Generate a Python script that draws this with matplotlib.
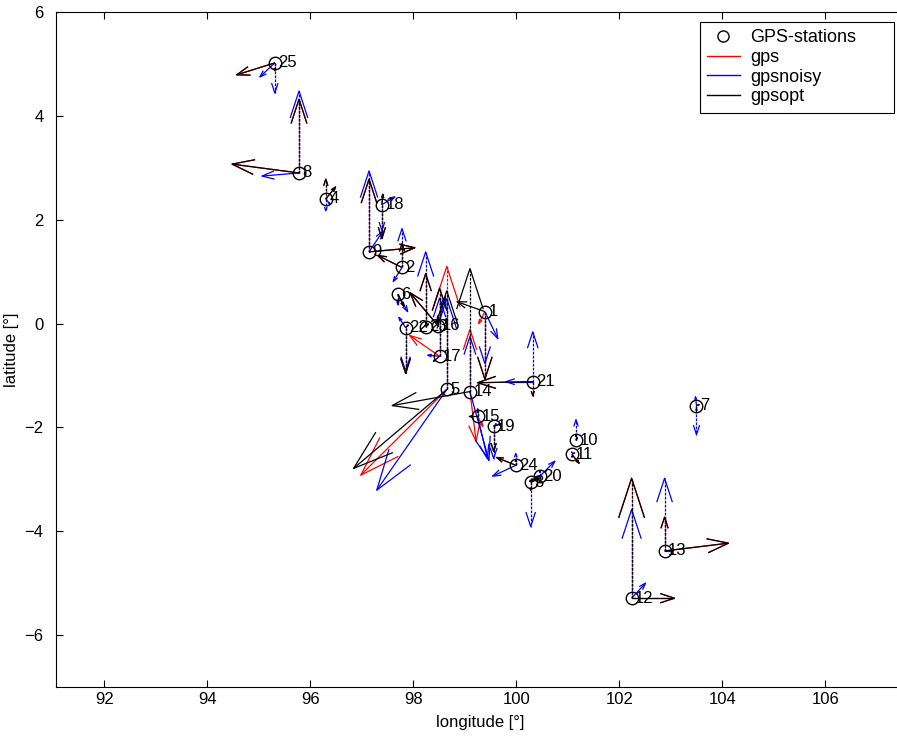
import matplotlib
matplotlib.use('Agg')
import matplotlib.pyplot as plt
from matplotlib.collections import LineCollection
from matplotlib.lines import Line2D

plt.rcParams['font.family'] = ['Liberation Sans', 'DejaVu Sans']

# station positions [deg]
station_id = list(range(1, 26))
lon = [99.39, 97.78, 100.28, 96.30, 98.65, 97.70, 103.50, 95.78, 97.14, 101.16,
       101.08, 102.24, 102.88, 99.10, 99.25, 98.48, 98.51, 97.39, 99.56, 100.46,
       100.32, 97.85, 98.24, 99.99, 95.31]
lat = [0.23, 1.08, -3.06, 2.40, -1.27, 0.56, -1.58, 2.90, 1.38, -2.25,
       -2.52, -5.29, -4.38, -1.31, -1.79, -0.04, -0.63, 2.29, -1.98, -2.94,
       -1.12, -0.08, -0.06, -2.73, 5.02]

# displacement vectors (east, north, up), scaled for display
opt_e = [-0.54, -0.47, 0.17, 0.19, -1.81, 0.12, 0.05, -1.30, 0.89, 0.02,
         0.14, 0.83, 1.24, -1.51, -0.16, -0.54, -0.12, 0.02, 0.15, -0.20,
         -1.07, 0.05, 0.05, -0.37, -0.74]
opt_n = [0.19, 0.23, 0.08, 0.23, -1.52, -0.23, 0.02, 0.17, 0.08, 0.05,
         -0.17, 0.0, 0.15, -0.27, 0.0, 0.63, -0.10, 0.20, 0.05, -0.10,
         -0.02, 0.05, 0.05, 0.15, -0.23]
opt_u = [-1.30, 0.46, -0.15, 0.38, 1.90, -0.15, -0.10, 1.42, 1.40, 0.10,
         -0.05, 2.31, 0.65, 2.37, 0.10, 0.15, 1.31, -0.65, -0.48, -0.10,
         -0.27, -0.88, 1.02, 0.10, -0.15]

gps_e = [-0.12, -0.47, 0.17, 0.19, -1.67, 0.12, 0.05, -1.30, 0.89, 0.02,
         0.14, 0.83, 1.24, 0.12, 0.10, -0.54, -0.58, 0.02, 0.15, -0.20,
         -1.07, 0.05, 0.05, -0.37, -0.74]
gps_n = [-0.23, 0.23, 0.08, 0.23, -1.65, -0.23, 0.02, 0.17, 0.08, 0.05,
         -0.17, 0.0, 0.15, -0.96, -0.19, 0.63, 0.40, 0.20, 0.05, -0.10,
         -0.02, 0.05, 0.05, 0.15, -0.23]
gps_u = [-1.30, 0.46, -0.15, 0.38, 2.37, -0.15, -0.10, 1.42, 1.40, 0.10,
         -0.05, 2.31, 0.65, 1.20, 0.10, 0.15, 1.31, -0.65, -0.48, -0.10,
         -0.27, -0.88, 1.02, 0.10, -0.15]

noisy_e = [0.25, -0.17, 0.12, 0.08, -1.36, 0.19, -0.02, -0.72, 0.27, 0.03,
           0.05, 0.27, 0.16, 0.37, 0.19, 0.14, -0.23, 0.25, 0.05, 0.29,
           -0.52, -0.13, 0.05, -0.45, -0.29]
noisy_n = [-0.52, -0.27, 0.12, -0.10, -1.94, -0.33, 0.17, -0.06, 0.40, 0.05,
           0.03, 0.29, 0.0, -1.33, -0.81, 0.56, 0.02, 0.15, 0.05, 0.29,
           0.0, 0.20, 0.05, -0.21, -0.27]
noisy_u = [-1.00, 0.75, -0.85, -0.23, 1.75, -0.20, -0.56, 1.58, 1.56, 0.40,
           0.05, 1.71, 1.40, 1.06, 0.15, 0.20, 1.12, -0.50, -0.62, 0.10,
           0.96, -0.83, 1.44, 0.23, -0.58]


def arrows(x, y, u, v, alpha=0.33, beta=0.33):
    # shafts and open heads, same geometry as matlab's quiver
    shafts, heads = [], []
    for xi, yi, ui, vi in zip(x, y, u, v):
        if ui == 0 and vi == 0:
            continue
        tx, ty = xi + ui, yi + vi
        shafts.append([(xi, yi), (tx, ty)])
        heads.append([(tx - alpha * (ui + beta * vi), ty - alpha * (vi - beta * ui)),
                      (tx, ty),
                      (tx - alpha * (ui - beta * vi), ty - alpha * (vi + beta * ui))])
    return shafts, heads


fig = plt.figure(figsize=(8.97, 7.42), dpi=100)
ax = fig.add_axes([56 / 897, 55 / 742, 849 / 897, 675 / 742])

zero = [0] * len(lon)
for e, n, up, col in [(gps_e, gps_n, gps_u, 'r'),
                      (noisy_e, noisy_n, noisy_u, 'b'),
                      (opt_e, opt_n, opt_u, 'k')]:
    hs, hh = arrows(lon, lat, e, n)
    vs, vh = arrows(lon, lat, zero, up)
    ax.add_collection(LineCollection(hs + hh + vh, colors=col, linewidths=0.9))
    ax.add_collection(LineCollection(vs, colors=col, linewidths=0.9,
                                     linestyles=[(0, (2.2, 1.0))]))

ax.plot(lon, lat, 'o', mfc='none', mec='k', ms=9, mew=1.0)
for i, x, y in zip(station_id, lon, lat):
    ax.text(x + 0.07, y, str(i), fontsize=12, va='center', ha='left')

ax.set_xlim(91.06, 107.55)
ax.set_ylim(-7, 6)
ax.set_xticks(range(92, 107, 2))
ax.set_yticks(range(-6, 7, 2))
ax.tick_params(direction='in', top=True, right=True, length=5, labelsize=12)
ax.tick_params(axis='y', pad=9)
ax.set_xlabel('longitude [°]', fontsize=12, labelpad=6)
ax.set_ylabel('latitude [°]', fontsize=12, labelpad=4)

handles = [Line2D([], [], ls='none', marker='o', mfc='none', mec='k', ms=8),
           Line2D([], [], color='r', lw=1),
           Line2D([], [], color='b', lw=1),
           Line2D([], [], color='k', lw=1)]
leg = ax.legend(handles, ['GPS-stations', 'gps', 'gpsnoisy', 'gpsopt'],
                loc='upper left', mode='expand',
                bbox_to_anchor=(700 / 897, 1 - 112 / 742, 194 / 897, 90 / 742),
                bbox_transform=fig.transFigure, fontsize=13,
                fancybox=False, framealpha=1, edgecolor='k',
                handlelength=1.8, handletextpad=0.6, labelspacing=0.15,
                borderpad=0.4, borderaxespad=0)
leg.get_frame().set_linewidth(0.8)

fig.savefig('out.png', dpi=100)
